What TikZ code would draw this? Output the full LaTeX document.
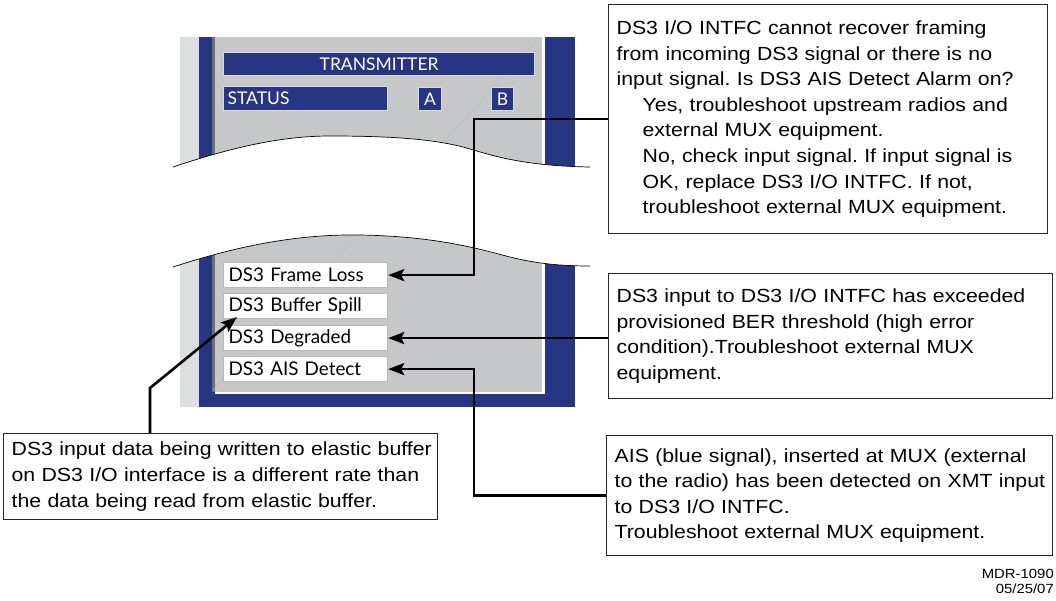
\documentclass[tikz,border=0pt]{standalone}
\usepackage{fontspec}
\setmainfont{Liberation Sans}
\newfontfamily\notefont[FakeStretch=1.12]{Liberation Sans}
\newfontfamily\panelfont{Lato}
\usepackage{tikz}
\usetikzlibrary{arrows.meta,positioning,calc}
\usepackage{xcolor}
\definecolor{panelblue}{HTML}{283583}
\definecolor{panelgray}{HTML}{C6C7C9}
\definecolor{edgegray}{HTML}{DDDEDF}
\definecolor{shadegray}{HTML}{6E6F72}
\frenchspacing

\begin{document}
\begin{tikzpicture}[
    x=1pt, y=-1pt,
    note/.style={draw=black!85, line width=1.3pt, anchor=north west, inner xsep=0pt, inner ysep=0pt, align=left, execute at begin node={\leftskip=8pt}, font=\notefont\fontsize{19}{25.6}\selectfont},
    alarm/.style={draw=gray!55, fill=white, line width=1.2pt, anchor=north west, minimum height=25pt, text width=154pt, inner xsep=5pt, inner ysep=0pt, align=left, font=\panelfont\fontsize{18.8}{20}\selectfont},
    bluebox/.style={draw=white!85!black, fill=panelblue, line width=1.2pt, text=white, anchor=north west, inner sep=0pt, font=\panelfont\fontsize{17.5}{20}\selectfont},
    pointer/.style={-{Stealth[length=16pt,width=12pt,inset=3pt]}, line width=2.6pt},
    wave/.style={line width=0.7pt}
]
    \useasboundingbox (0,0) rectangle (1056,600);

    % Upper part of the front panel
    \fill[edgegray] (180,37) rectangle (199,185);
    \fill[panelblue] (199,37) rectangle (575,185);
    \fill[shadegray] (212,37) rectangle (215,185);
    \fill[white] (215,37) rectangle (545,185);
    \fill[panelgray] (215,37) rectangle (542,185);
    \draw[gray!55, line width=0.4pt] (540,37) -- (425,162);
    % cut off below the wave
    \fill[white] (173,167) .. controls (230,148) and (280,136) .. (330,136)
        .. controls (400,136) and (440,140) .. (470,149)
        .. controls (500,158) and (530,166) .. (590,167) -- (592,190) -- (170,190) -- cycle;
    \draw[wave] (173,167) .. controls (230,148) and (280,136) .. (330,136)
        .. controls (400,136) and (440,140) .. (470,149)
        .. controls (500,158) and (530,166) .. (590,167);

    \node[bluebox, minimum width=311pt, minimum height=23pt] (title) at (223,52) {TRANSMITTER};
    \node[bluebox, text width=156pt, inner xsep=4pt, minimum height=24pt, align=left] (status) at (223,86) {STATUS};
    \node[bluebox, minimum width=23pt, minimum height=23pt] (chA) at (418,87) {A};
    \node[bluebox, minimum width=22pt, minimum height=23pt] (chB) at (491,87) {B};

    % Lower part of the front panel
    \fill[edgegray] (180,220) rectangle (199,407);
    \fill[panelblue] (199,220) rectangle (575,407);
    \fill[shadegray] (212,220) rectangle (215,392);
    \fill[white] (215,220) rectangle (545,394);
    \fill[panelgray] (215,220) rectangle (542,392);
    \draw[gray!55, line width=0.4pt] (362,232) -- (213,390);
    % cut off above the wave
    \fill[white] (173,267) .. controls (240,245) and (300,234) .. (360,235)
        .. controls (420,236) and (460,244) .. (495,253)
        .. controls (520,260) and (545,266) .. (590,266) -- (592,215) -- (170,215) -- cycle;
    \draw[wave] (173,267) .. controls (240,245) and (300,234) .. (360,235)
        .. controls (420,236) and (460,244) .. (495,253)
        .. controls (520,260) and (545,266) .. (590,266);

    % Alarm indicators
    \node[alarm] (frame) at (223,262) {DS3 Frame Loss};
    \node[alarm] (spill) at (223,293) {DS3 Buffer Spill};
    \node[alarm] (degraded) at (223,325) {DS3 Degraded};
    \node[alarm] (ais) at (223,356) {DS3 AIS Detect};

    % Callouts
    \node[note, text width=439pt, minimum height=229pt] (frameinfo) at (608,4) {DS3 I/O INTFC cannot recover framing\\
        from incoming DS3 signal or there is no\\
        input signal. Is DS3 AIS Detect Alarm on?\\
        \hspace*{26pt}Yes, troubleshoot upstream radios and\\
        \hspace*{26pt}external MUX equipment.\\
        \hspace*{26pt}No, check input signal. If input signal is\\
        \hspace*{26pt}OK, replace DS3 I/O INTFC. If not,\\
        \hspace*{26pt}troubleshoot external MUX equipment.};
    \node[note, text width=444pt, minimum height=125pt] (degradedinfo) at (608,273) {DS3 input to DS3 I/O INTFC has exceeded\\
        provisioned BER threshold (high error\\
        condition).Troubleshoot external MUX\\
        equipment.};
    \node[note, text width=434pt, minimum height=86pt] (spillinfo) at (3,433) {DS3 input data being written to elastic buffer\\
        on DS3 I/O interface is a different rate than\\
        the data being read from elastic buffer.};
    \node[note, text width=446pt, minimum height=120pt] (aisinfo) at (606,435) {AIS (blue signal), inserted at MUX (external\\
        to the radio) has been detected on XMT input\\
        to DS3 I/O INTFC.\\
        Troubleshoot external MUX equipment.};

    % Leader lines
    \coordinate (spillbend) at (150,388);
    \coordinate (spilltip) at (237,317);
    \draw[pointer] (frameinfo.west) -- ++(-134,0) |- (frame.east);
    \draw[pointer] (degradedinfo.west |- degraded.east) -- (degraded.east);
    \draw[pointer] (aisinfo.west) -- ++(-132,0) |- (ais.east);
    \draw[pointer] (spillinfo.north -| spillbend) -- (spillbend) -- (spilltip);

    % Drawing number
    \node[anchor=north east, align=right, inner sep=0pt, font=\notefont\fontsize{13.3}{15}\selectfont] (drawno) at (1054,569) {MDR-1090\\05/25/07};
\end{tikzpicture}
\end{document}
